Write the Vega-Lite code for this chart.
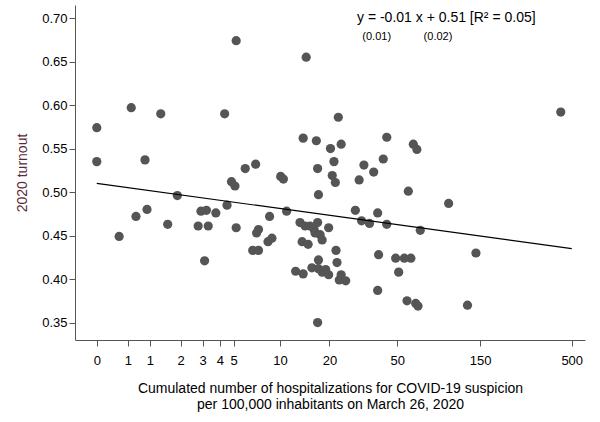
{
  "$schema": "https://vega.github.io/schema/vega-lite/v6.json",
  "width": 510,
  "height": 335,
  "autosize": "none",
  "padding": {"left": 75, "top": 5, "right": 15, "bottom": 82},
  "background": "white",
  "config": {
    "font": "Liberation Sans",
    "view": {"stroke": null},
    "axis": {"grid": false, "labelFontSize": 13, "titleFontSize": 14, "titleFontWeight": "normal", "labelColor": "#000", "titleColor": "#000", "domainColor": "#555", "tickColor": "#555"}
  },
  "datasets": {
    "pts": [
      {"x":0,"y":0.574},{"x":0,"y":0.535},{"x":0.34,"y":0.449},{"x":0.57,"y":0.597},{"x":0.67,"y":0.472},
      {"x":0.88,"y":0.537},{"x":0.93,"y":0.480},{"x":1.31,"y":0.590},{"x":1.53,"y":0.463},{"x":1.87,"y":0.496},
      {"x":2.77,"y":0.461},{"x":2.91,"y":0.478},{"x":3.2,"y":0.479},{"x":3.1,"y":0.421},{"x":3.3,"y":0.461},
      {"x":3.75,"y":0.476},{"x":4.33,"y":0.590},{"x":4.5,"y":0.485},{"x":4.83,"y":0.512},{"x":5.1,"y":0.507},
      {"x":5.2,"y":0.674},{"x":5.2,"y":0.459},{"x":5.98,"y":0.527},{"x":6.7,"y":0.433},{"x":7.0,"y":0.532},
      {"x":7.1,"y":0.453},{"x":7.3,"y":0.457},{"x":7.3,"y":0.433},{"x":8.4,"y":0.443},{"x":8.6,"y":0.472},
      {"x":8.9,"y":0.447},{"x":10.1,"y":0.518},{"x":10.5,"y":0.515},{"x":11,"y":0.478},{"x":12.5,"y":0.409},
      {"x":13.3,"y":0.465},{"x":13.7,"y":0.443},{"x":13.9,"y":0.562},{"x":14.3,"y":0.461},{"x":14.5,"y":0.655},
      {"x":13.9,"y":0.406},{"x":14.9,"y":0.440},{"x":15.3,"y":0.461},{"x":15.7,"y":0.413},{"x":16.2,"y":0.457},
      {"x":16.4,"y":0.453},{"x":16.7,"y":0.559},{"x":17,"y":0.465},{"x":17,"y":0.527},{"x":17.2,"y":0.422},
      {"x":17.2,"y":0.497},{"x":17,"y":0.350},{"x":17.2,"y":0.412},{"x":17.6,"y":0.451},{"x":18.1,"y":0.445},
      {"x":18.1,"y":0.408},{"x":19.0,"y":0.411},{"x":19.8,"y":0.459},{"x":19.8,"y":0.405},{"x":20.3,"y":0.550},
      {"x":20.8,"y":0.519},{"x":21.3,"y":0.535},{"x":21.7,"y":0.511},{"x":21.9,"y":0.433},{"x":22.2,"y":0.419},
      {"x":22.6,"y":0.586},{"x":22.9,"y":0.399},{"x":23.5,"y":0.405},{"x":23.5,"y":0.555},{"x":25,"y":0.398},
      {"x":28.5,"y":0.479},{"x":30,"y":0.514},{"x":31,"y":0.467},{"x":32,"y":0.531},{"x":34.5,"y":0.464},
      {"x":36.5,"y":0.523},{"x":38.5,"y":0.387},{"x":38.5,"y":0.476},{"x":39,"y":0.428},{"x":41.5,"y":0.538},
      {"x":43.5,"y":0.563},{"x":43.5,"y":0.463},{"x":49,"y":0.424},{"x":51,"y":0.408},{"x":55,"y":0.424},
      {"x":58,"y":0.501},{"x":57,"y":0.375},{"x":62,"y":0.555},{"x":64,"y":0.372},{"x":65,"y":0.549},
      {"x":66,"y":0.369},{"x":60,"y":0.424},{"x":68,"y":0.456},{"x":99,"y":0.487},{"x":127,"y":0.370},
      {"x":142,"y":0.430},{"x":433,"y":0.592}
    ],
    "fit": [{"x":0,"y":0.510},{"x":500,"y":0.435}],
    "notes": [
      {"x":96,"y":0.700,"t":"y = -0.01 x + 0.51 [R² = 0.05]","s":14},
      {"x":38,"y":0.678,"t":"(0.01)","s":11},
      {"x":86,"y":0.678,"t":"(0.02)","s":11}
    ]
  },
  "encoding": {
    "x": {"field": "x", "type": "quantitative",
      "scale": {"type": "symlog", "constant": 1, "domain": [-0.33, 595], "nice": false, "zero": false},
      "axis": {"values": [0, 0.5, 1, 2, 3, 4, 5, 10, 20, 50, 150, 500], "labelFlush": false, "labelOverlap": false, "labelPadding": 8, "tickSize": 6, "titlePadding": 14,
        "title": ["Cumulated number of hospitalizations for COVID-19 suspicion", "per 100,000 inhabitants on March 26, 2020"]}},
    "y": {"field": "y", "type": "quantitative",
      "scale": {"domain": [0.33, 0.715], "nice": false, "zero": false},
      "axis": {"values": [0.35, 0.4, 0.45, 0.5, 0.55, 0.6, 0.65, 0.7], "format": ".2f", "tickSize": 6, "title": "2020 turnout", "titleColor": "#5a2a3a", "titlePadding": 12}}
  },
  "layer": [
    {"data": {"name": "pts"}, "mark": {"type": "circle", "size": 85, "color": "#555555", "opacity": 1}},
    {"data": {"name": "fit"}, "mark": {"type": "line", "color": "#000", "strokeWidth": 1.2}},
    {"data": {"name": "notes"}, "mark": {"type": "text", "color": "#000", "baseline": "middle"},
      "encoding": {"text": {"field": "t"}, "size": {"field": "s", "type": "quantitative", "scale": null}}}
  ]
}
